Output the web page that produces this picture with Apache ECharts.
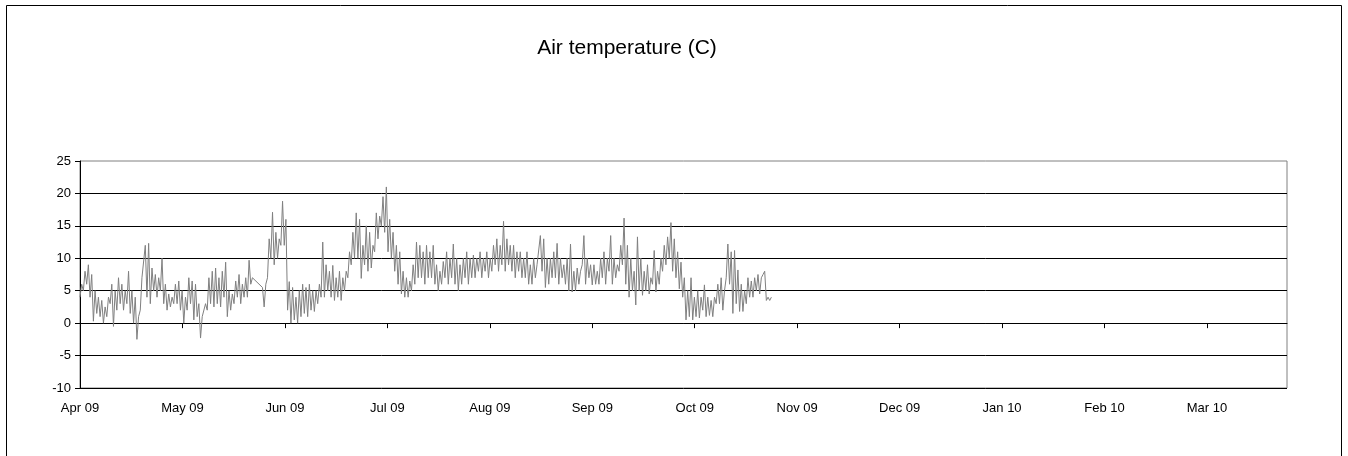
<!DOCTYPE html>
<html><head><meta charset="utf-8">
<script src="https://cdn.jsdelivr.net/npm/echarts@6/dist/echarts.min.js"></script>
<style>html,body{margin:0;padding:0;background:#fff}#c{width:1348px;height:456px}</style>
</head><body><div id="c"></div>
<script>
// Days counted from 1 Apr 2009; one low and one high reading per day
const chartTitle = 'Air temperature (C)';
const monthTickLabels = ['Apr 09','May 09','Jun 09','Jul 09','Aug 09','Sep 09','Oct 09','Nov 09','Dec 09','Jan 10','Feb 10','Mar 10'];
const dailyLow = [
4,5,6,4,0.3,1.5,1,0,1,3,
-0.5,2,3,2,3,1.5,0,-2.5,2,7,
4,3,5,4,5,3,2,2.5,3,3,
2,0,2,3,0.5,1,-2.3,1,2,3,
2.5,3,2.5,4,1,2,3,4,3,4,
4,6,null,null,null,2.5,7,10,9,10,
12,12,2,0,0.5,0,1,1.5,1,2,
1.8,3,4,4,5,4,3.5,4,3.5,5,
7,9,10,10,6.9,9,8,8.5,11,13,
15,14,11,10,8,6,4.5,4,4,5,
6,7,7,6,7,7,6,5,6,7,
6,7,6,5,6,7,6,7,7,8,
7,8,7,8,9,8,9,8,9,8,
7,8,7,7,6,6,7,9,8,5.5,
6,7,7,6,7,6,5,4.8,5,6,
9,6,7,5.9,6,6,7,6,8,6,
7,8,9,6,4,5,2.8,5,4.3,5,
4.5,6,4.8,6,8,9,10,8,7,5.3,
4,0.5,1,0.5,1,0.8,2,1,1.2,1,
3,3,2,7,6,1.5,3,1.8,1.8,3,
4,4,5,4.5,7.5,3.5,3.5
];
const dailyHigh = [
6,8,9,7.5,5,4,3.5,2.5,4,6,
5,7,6,5,8,5,4,1,7,12,
12.3,8.5,7.5,7,10,6,4.5,4,6,6.5,
5,4,7,6.5,6,3,1,3,7,8,
8.5,7,8,9.4,5,4.5,6.5,7.5,6,7,
9.7,7,null,null,5.5,6,13,17.1,14,13,
18.8,16,6.4,5.5,4,5,6,5.5,6,5,
5,6,12.5,9,8,8.9,7,8,7,8,
11,14,17,16,12,15,14,12,17,16.5,
19.5,21,16,14,12,11,8,7,6.5,9,
12.5,12,11,12,11,12,9,8,9.5,11,
10,12.2,10,9,10,11,10,10.5,10,11,
10,11,10,12,13,12,15.7,13,12,12,
11,11,10,11,9,10,9,13.5,13,10,
10,11,12.3,10,9,10,12.2,8,8.5,8,
13.5,10,9,9,8,10,11,10,13.5,10,
9,12,16.2,12,10,8,13.3,10,8,9,
7,11.2,8,10,12,13.3,15.5,13,11,9.4,
7,5,7,4,5,4,5.9,4,3.5,4,
6,7,5,12.2,11,11.2,8.2,6,5,7,
6.5,7,7.5,7,8,4,4
];
const yTicks = {min: -10, max: 25, step: 5};
const xTickStep = 30.6;   // days between month ticks
const xMaxDays = 360.5;

const seriesData = [];
dailyLow.forEach((lo, d) => {
  seriesData.push([d, lo]);
  seriesData.push([d + 0.5, dailyHigh[d]]);
});
const tickValues = monthTickLabels.map((_, k) => +(k * xTickStep).toFixed(2));

const chart = echarts.init(document.getElementById('c'), null, {renderer: 'canvas'});
const FONT = '"Liberation Sans", Arial, sans-serif';
chart.setOption({
  animation: false,
  backgroundColor: '#fff',
  grid: {left: 80, top: 161, width: 1207, height: 227, show: true, borderColor: '#808080', borderWidth: 1, backgroundColor: 'transparent'},
  graphic: [
    {type: 'rect', shape: {x: 6.5, y: 5.5, width: 1335, height: 470}, style: {fill: 'none', stroke: '#000', lineWidth: 1}, z: -1},
    {type: 'text', x: 627, y: 48, style: {text: chartTitle, font: '21px ' + FONT, fill: '#000', textAlign: 'center', textVerticalAlign: 'middle'}}
  ],
  xAxis: {
    type: 'value', min: 0, max: xMaxDays, interval: xTickStep,
    axisLine: {show: true, lineStyle: {color: '#000', width: 1}},
    axisTick: {show: true, length: 5, lineStyle: {color: '#000'}, customValues: tickValues},
    axisLabel: {color: '#000', fontSize: 13, fontFamily: FONT, margin: 14, customValues: tickValues,
      formatter: v => monthTickLabels[Math.round(v / xTickStep)] || ''},
    splitLine: {show: false}
  },
  yAxis: {
    type: 'value', min: yTicks.min, max: yTicks.max, interval: yTicks.step,
    axisLine: {show: true, lineStyle: {color: '#000', width: 1}},
    axisTick: {show: true, length: 5, lineStyle: {color: '#000'}},
    axisLabel: {color: '#000', fontSize: 13, fontFamily: FONT, margin: 9},
    splitLine: {show: true, showMaxLine: false, lineStyle: {color: '#000', width: 1}}
  },
  series: [{
    type: 'line', data: seriesData, showSymbol: false, symbol: 'none', connectNulls: true,
    lineStyle: {color: '#808080', width: 1}, itemStyle: {color: '#808080'}
  }]
});
</script></body></html>
